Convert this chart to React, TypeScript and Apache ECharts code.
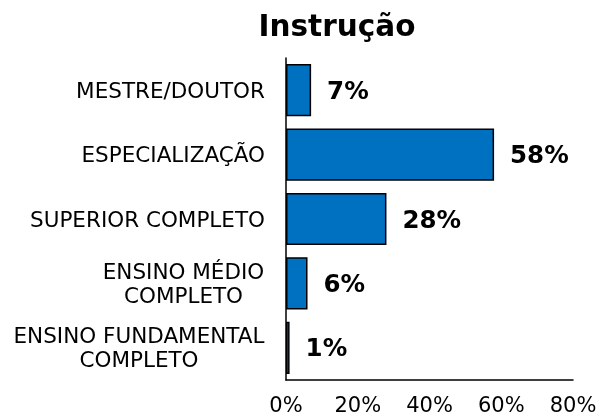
import React, { useEffect, useRef } from "react";
import * as echarts from "echarts";

const categories = [
  "MESTRE/DOUTOR",
  "ESPECIALIZAÇÃO",
  "SUPERIOR COMPLETO",
  "ENSINO MÉDIO\nCOMPLETO",
  "ENSINO FUNDAMENTAL\nCOMPLETO",
];
const values = [7, 58, 28, 6, 1];
const xTicks = [0, 20, 40, 60, 80];
const titleText = "Instrução";

const FONT = '"DejaVu Sans", Verdana, sans-serif';
const CAT_SIZE = 21.5;

function measure(text: string, font: string): number {
  const c = document.createElement("canvas");
  const ctx = c.getContext("2d");
  if (!ctx) return text.length * 11;
  ctx.font = font;
  return ctx.measureText(text).width;
}

export default function App() {
  const ref = useRef<HTMLDivElement>(null);
  useEffect(() => {
    if (!ref.current) return;
    const chart = echarts.init(ref.current, undefined, { renderer: "svg" });
    const rich: Record<string, any> = {};
    categories.forEach((c, i) => {
      const lines = c.split("\n");
      const w = Math.max(...lines.map((l) => measure(l, `${CAT_SIZE}px ${FONT}`)));
      rich["c" + i] = {
        width: Math.ceil(w) + 1,
        align: "center",
        fontSize: CAT_SIZE,
        fontFamily: FONT,
        color: "#000",
        lineHeight: 24,
      };
    });
    chart.setOption({
      animation: false,
      title: {
        text: titleText,
        left: 332,
        top: 6,
        textAlign: "center",
        textStyle: {
          fontFamily: FONT,
          fontSize: 29.5,
          fontWeight: "bold",
          color: "#000",
        },
      },
      grid: {
        left: 286,
        right: 27,
        top: 58,
        bottom: 38,
        containLabel: false,
        outerBoundsMode: "none",
      },
      xAxis: {
        type: "value",
        min: xTicks[0],
        max: xTicks[xTicks.length - 1],
        interval: xTicks[1] - xTicks[0],
        splitLine: { show: false },
        axisTick: { show: false },
        axisLine: { show: true, lineStyle: { color: "#000", width: 1.5 } },
        axisLabel: {
          formatter: (v: number) => `${v}%`,
          fontFamily: FONT,
          fontSize: 21,
          color: "#000",
          margin: 14,
        },
      },
      yAxis: {
        type: "category",
        inverse: true,
        data: categories,
        axisTick: { show: false },
        axisLine: { show: true, lineStyle: { color: "#000", width: 1.5 } },
        axisLabel: {
          margin: 21,
          fontFamily: FONT,
          fontSize: CAT_SIZE,
          color: "#000",
          lineHeight: 24,
          formatter: (v: string, i: number) => {
            const lines = v.split("\n");
            if (lines.length === 1) return v;
            return lines.map((l) => `{c${i}|${l}}`).join("\n");
          },
          rich,
        },
      },
      series: [
        {
          type: "bar",
          data: values,
          barWidth: "81%",
          itemStyle: {
            color: "#0070C0",
            borderColor: "#000",
            borderWidth: 1.5,
          },
          label: {
            show: true,
            position: "right",
            distance: 16,
            formatter: (p: any) => `${p.value}%`,
            fontFamily: FONT,
            fontSize: 24.5,
            fontWeight: "bold",
            color: "#000",
          },
        },
      ],
    });
    return () => chart.dispose();
  }, []);
  return (
    <div
      ref={ref}
      style={{ position: "fixed", left: 0, top: 0, width: 600, height: 418 }}
    />
  );
}
